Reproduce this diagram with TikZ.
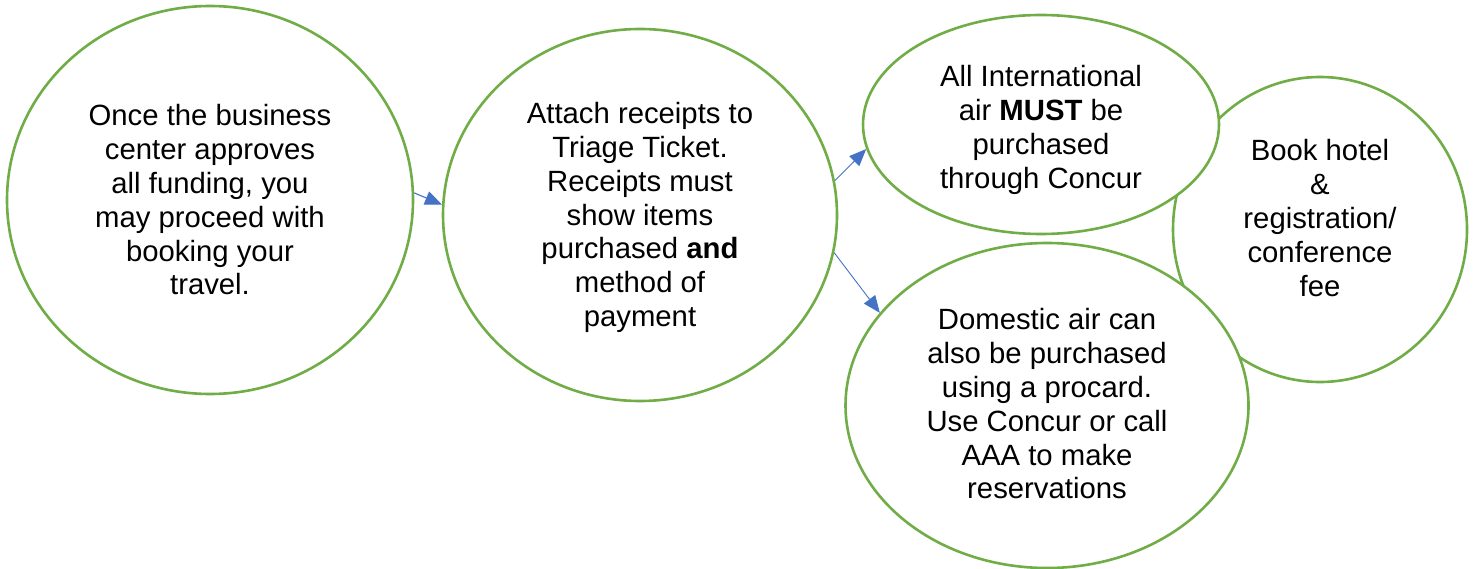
\documentclass[tikz,border=0pt]{standalone}
\usepackage{fontspec}
\setmainfont{Liberation Sans}
\usetikzlibrary{shapes.geometric,arrows.meta}
\definecolor{grn}{HTML}{70AD47}
\definecolor{blu}{HTML}{4472C4}
\tikzset{
  bubble/.style={ellipse, draw=grn, line width=2.6pt, fill=white, inner sep=0pt},
  txt/.style={align=center, font=\fontsize{29.3}{33.8}\selectfont, inner sep=0pt},
  conn/.style={draw=blu, line width=1.1pt, -{Triangle[length=17pt,width=14pt]}}
}
\begin{document}
\begin{tikzpicture}[x=1pt,y=1pt]
\useasboundingbox (0,0) rectangle (1474,-569);
% shapes
\node[bubble, minimum width=294pt, minimum height=305pt] (c4) at (1320,-229.5) {};
\node[bubble, minimum width=406pt, minimum height=388pt] (c1) at (210,-200) {};
\node[bubble, minimum width=394pt, minimum height=372pt] (c2) at (640,-215) {};
\node[bubble, minimum width=356pt, minimum height=219pt] (c3) at (1041,-124.5) {};
\node[bubble, minimum width=403pt, minimum height=325pt] (c5) at (1047,-405.5) {};
% texts
\node[txt] (t1) at (210,-200) {Once the business\\center approves\\all funding, you\\may proceed with\\booking your\\travel.};
\node[txt] (t2) at (640,-217.5) {Attach receipts to\\Triage Ticket.\\Receipts must\\show items\\purchased \textbf{and}\\method of\\payment};
\node[txt] (t3) at (1041,-130) {All International\\air \textbf{MUST} be\\purchased\\through Concur};
\node[txt] (t4) at (1320,-218) {Book hotel\\\&\\registration/\\conference\\fee};
\node[txt] (t5) at (1047,-404) {Domestic air can\\also be purchased\\using a procard.\\Use Concur or call\\AAA to make\\reservations};
% connectors
\draw[conn] (c1.2) -- (c2.177.4);
\draw[conn, line width=0.9pt] (c2.10) -- (c3.188.3);
\draw[conn, line width=0.9pt] (c2.-11.4) -- (c5.151.3);
\end{tikzpicture}
\end{document}
